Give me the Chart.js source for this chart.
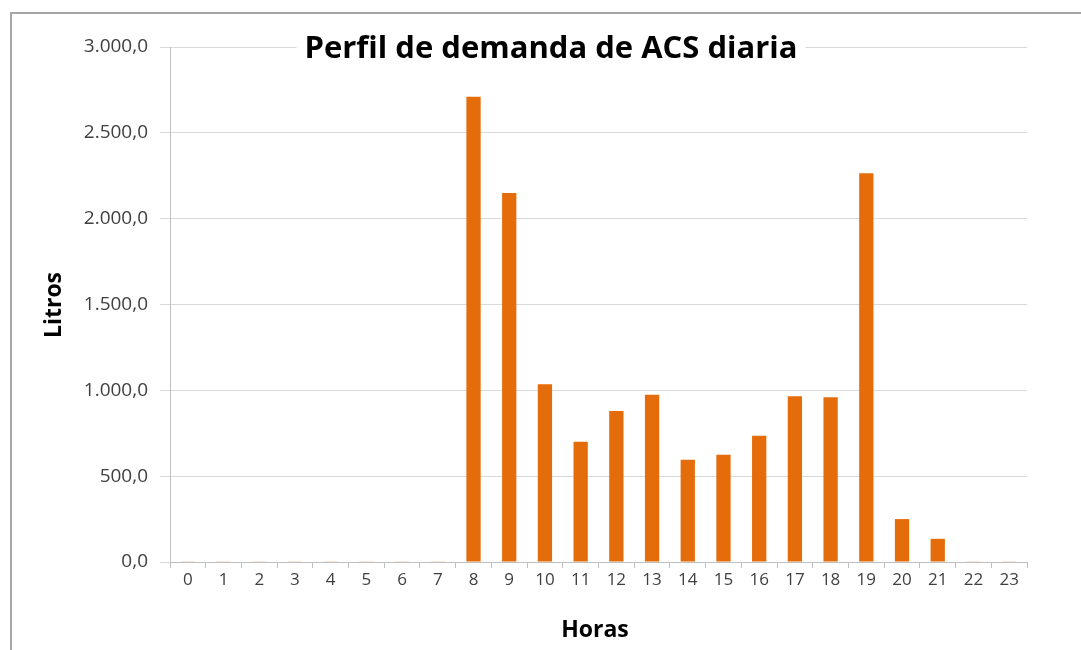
<!DOCTYPE html>
<html>
<head>
<meta charset="utf-8">
<script src="https://cdn.jsdelivr.net/npm/chart.js@4"></script>
<style>
  html, body { margin: 0; padding: 0; background: #fff; }
  #wrap { position: absolute; left: 0; top: 0; width: 1081px; height: 650px; }
  #frame { position: absolute; left: 10px; top: 12px; width: 1100px; height: 700px;
           border-left: 2px solid #a6a6a6; border-top: 2px solid #a6a6a6; }
</style>
</head>
<body>
<div id="wrap">
  <div id="frame"></div>
  <canvas id="chart" width="1081" height="650"></canvas>
</div>
<script>
// Data
const horas = ['0','1','2','3','4','5','6','7','8','9','10','11','12','13','14','15','16','17','18','19','20','21','22','23'];
const litros = [2, 2, 2, 2, 2, 2, 2, 2, 2710, 2150, 1035, 700, 880, 975, 595, 625, 735, 965, 960, 2265, 250, 135, 2, 2];

const titulo = 'Perfil de demanda de ACS diaria';
const tituloY = 'Litros';
const tituloX = 'Horas';

const fontFamily = '"Open Sans", Lato, sans-serif';

// Format like 3.000,0
function formatLitros(v) {
  const parts = Number(v).toFixed(1).split('.');
  const ent = parts[0].replace(/\B(?=(\d{3})+(?!\d))/g, '.');
  return ent + ',' + parts[1];
}

// Titles drawn at fixed spots, main title sits over the top gridline
const titlesPlugin = {
  id: 'titles',
  afterDraw(chart) {
    const ctx = chart.ctx;
    ctx.save();
    ctx.font = 'bold 31px ' + fontFamily;
    ctx.textAlign = 'center';
    ctx.textBaseline = 'middle';
    const w = ctx.measureText(titulo).width;
    ctx.fillStyle = '#fff';
    ctx.fillRect(551 - w / 2 - 8, 28, w + 16, 42);
    ctx.fillStyle = '#000';
    ctx.fillText(titulo, 551, 49);

    ctx.font = 'bold 23px ' + fontFamily;
    ctx.fillText(tituloX, 595, 630);

    ctx.translate(54, 305);
    ctx.rotate(-Math.PI / 2);
    ctx.fillText(tituloY, 0, 0);
    ctx.restore();
  }
};

const chart = new Chart(document.getElementById('chart'), {
  type: 'bar',
  data: {
    labels: horas,
    datasets: [{
      label: tituloY,
      data: litros,
      backgroundColor: '#e46c0a',
      borderWidth: 0,
      barPercentage: 0.4,
      categoryPercentage: 1
    }]
  },
  options: {
    responsive: false,
    animation: false,
    layout: {
      padding: { left: 20, top: 47, right: 54, bottom: 0 }
    },
    plugins: {
      legend: { display: false },
      tooltip: { enabled: false }
    },
    scales: {
      x: {
        afterFit: (s) => { s.height = 88; },
        grid: {
          offset: true,
          drawOnChartArea: false,
          tickLength: 6,
          color: '#bfbfbf'
        },
        border: { color: '#bfbfbf' },
        ticks: {
          padding: 2,
          color: '#404040',
          font: { family: fontFamily, size: 17 }
        }
      },
      y: {
        min: 0,
        max: 3000,
        afterFit: (s) => { s.width = 150; },
        grid: {
          color: '#d9d9d9',
          tickLength: 10
        },
        border: { color: '#bfbfbf' },
        ticks: {
          stepSize: 500,
          padding: 12,
          color: '#404040',
          font: { family: fontFamily, size: 19 },
          callback: (v) => formatLitros(v)
        }
      }
    }
  },
  plugins: [titlesPlugin]
});
</script>
</body>
</html>
